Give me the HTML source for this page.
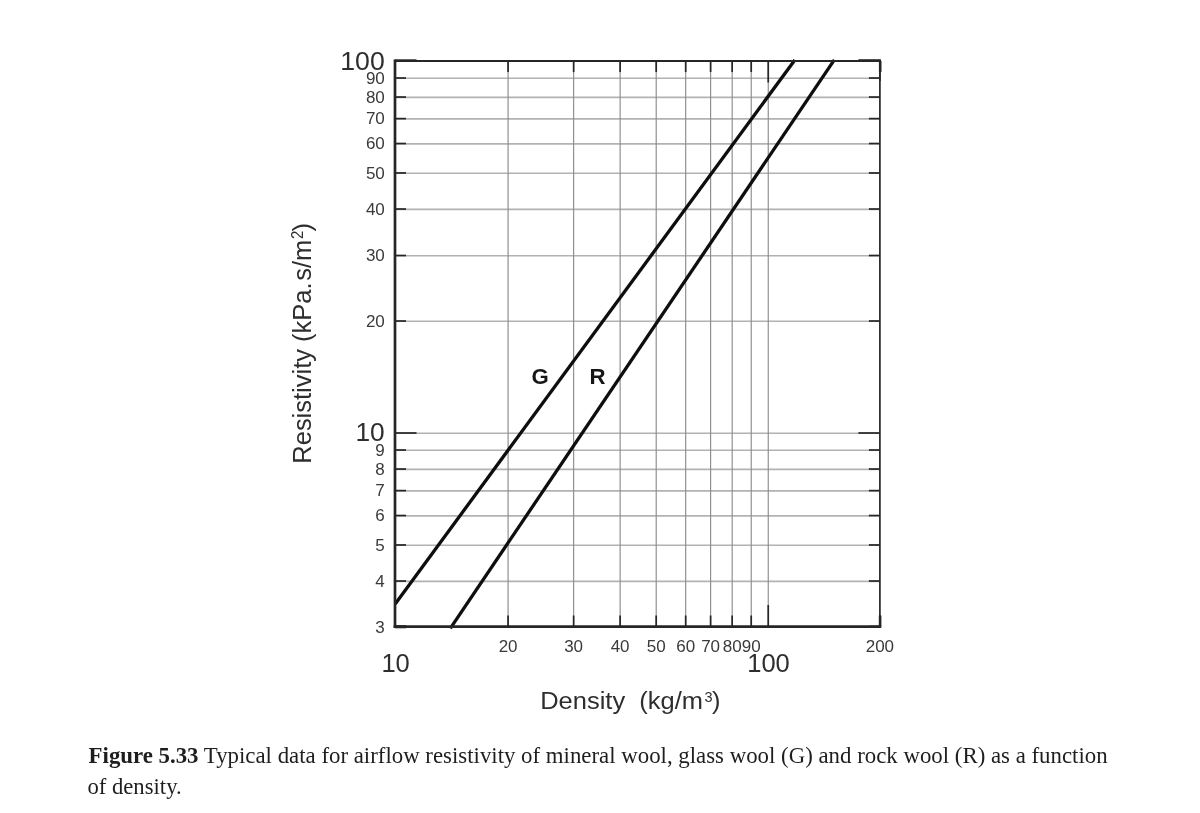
<!DOCTYPE html>
<html lang="en"><head><meta charset="utf-8"><title>Figure 5.33</title>
<style>html,body{margin:0;padding:0;background:#fff}body{width:1200px;height:813px;overflow:hidden}svg{display:block;filter:blur(0.45px)}.s{font-family:'Liberation Sans', Arial, Helvetica, sans-serif;fill:#3a3a3a}.b{font-family:'Liberation Sans', Arial, Helvetica, sans-serif;fill:#2e2e2e}.c{font-family:'Liberation Serif', 'Times New Roman', Times, serif;fill:#1e1e1e}</style>
</head><body>
<svg width="1200" height="813" viewBox="0 0 1200 813">
<rect width="1200" height="813" fill="#fff"/>
<g stroke="#b2b2b2" stroke-width="1.6">
<line x1="395.0" y1="581.33" x2="879.9" y2="581.33"/>
<line x1="395.0" y1="545.28" x2="879.9" y2="545.28"/>
<line x1="395.0" y1="515.83" x2="879.9" y2="515.83"/>
<line x1="395.0" y1="490.92" x2="879.9" y2="490.92"/>
<line x1="395.0" y1="469.35" x2="879.9" y2="469.35"/>
<line x1="395.0" y1="450.32" x2="879.9" y2="450.32"/>
<line x1="395.0" y1="433.30" x2="879.9" y2="433.30"/>
<line x1="395.0" y1="321.32" x2="879.9" y2="321.32"/>
<line x1="395.0" y1="255.81" x2="879.9" y2="255.81"/>
<line x1="395.0" y1="209.33" x2="879.9" y2="209.33"/>
<line x1="395.0" y1="173.28" x2="879.9" y2="173.28"/>
<line x1="395.0" y1="143.83" x2="879.9" y2="143.83"/>
<line x1="395.0" y1="118.92" x2="879.9" y2="118.92"/>
<line x1="395.0" y1="97.35" x2="879.9" y2="97.35"/>
<line x1="395.0" y1="78.32" x2="879.9" y2="78.32"/>
</g>
<g stroke="#8c8c8c" stroke-width="1.15">
<line x1="508.09" y1="61.0" x2="508.09" y2="626.5"/>
<line x1="573.63" y1="61.0" x2="573.63" y2="626.5"/>
<line x1="620.14" y1="61.0" x2="620.14" y2="626.5"/>
<line x1="656.21" y1="61.0" x2="656.21" y2="626.5"/>
<line x1="685.68" y1="61.0" x2="685.68" y2="626.5"/>
<line x1="710.60" y1="61.0" x2="710.60" y2="626.5"/>
<line x1="732.18" y1="61.0" x2="732.18" y2="626.5"/>
<line x1="751.22" y1="61.0" x2="751.22" y2="626.5"/>
<line x1="768.25" y1="61.0" x2="768.25" y2="626.5"/>
</g>
<g stroke="#0e0e0e" stroke-width="3.3" fill="none" stroke-linecap="butt">
<line x1="395.19" y1="603.90" x2="794.87" y2="59.90"/>
<line x1="450.32" y1="628.30" x2="834.31" y2="59.90"/>
</g>
<g stroke="#262626" stroke-width="1.7">
<line x1="395.0" y1="626.55" x2="406.0" y2="626.55"/>
<line x1="879.9" y1="626.55" x2="868.9" y2="626.55"/>
<line x1="395.0" y1="581.03" x2="406.0" y2="581.03"/>
<line x1="879.9" y1="581.03" x2="868.9" y2="581.03"/>
<line x1="395.0" y1="544.98" x2="406.0" y2="544.98"/>
<line x1="879.9" y1="544.98" x2="868.9" y2="544.98"/>
<line x1="395.0" y1="515.53" x2="406.0" y2="515.53"/>
<line x1="879.9" y1="515.53" x2="868.9" y2="515.53"/>
<line x1="395.0" y1="490.62" x2="406.0" y2="490.62"/>
<line x1="879.9" y1="490.62" x2="868.9" y2="490.62"/>
<line x1="395.0" y1="469.05" x2="406.0" y2="469.05"/>
<line x1="879.9" y1="469.05" x2="868.9" y2="469.05"/>
<line x1="395.0" y1="450.02" x2="406.0" y2="450.02"/>
<line x1="879.9" y1="450.02" x2="868.9" y2="450.02"/>
<line x1="395.0" y1="433.00" x2="416.5" y2="433.00"/>
<line x1="879.9" y1="433.00" x2="858.4" y2="433.00"/>
<line x1="395.0" y1="321.02" x2="406.0" y2="321.02"/>
<line x1="879.9" y1="321.02" x2="868.9" y2="321.02"/>
<line x1="395.0" y1="255.51" x2="406.0" y2="255.51"/>
<line x1="879.9" y1="255.51" x2="868.9" y2="255.51"/>
<line x1="395.0" y1="209.03" x2="406.0" y2="209.03"/>
<line x1="879.9" y1="209.03" x2="868.9" y2="209.03"/>
<line x1="395.0" y1="172.98" x2="406.0" y2="172.98"/>
<line x1="879.9" y1="172.98" x2="868.9" y2="172.98"/>
<line x1="395.0" y1="143.53" x2="406.0" y2="143.53"/>
<line x1="879.9" y1="143.53" x2="868.9" y2="143.53"/>
<line x1="395.0" y1="118.62" x2="406.0" y2="118.62"/>
<line x1="879.9" y1="118.62" x2="868.9" y2="118.62"/>
<line x1="395.0" y1="97.05" x2="406.0" y2="97.05"/>
<line x1="879.9" y1="97.05" x2="868.9" y2="97.05"/>
<line x1="395.0" y1="78.02" x2="406.0" y2="78.02"/>
<line x1="879.9" y1="78.02" x2="868.9" y2="78.02"/>
<line x1="395.0" y1="60.95" x2="416.5" y2="60.95"/>
<line x1="879.9" y1="60.95" x2="858.4" y2="60.95"/>
<line x1="395.00" y1="61.0" x2="395.00" y2="72.0"/>
<line x1="395.00" y1="626.5" x2="395.00" y2="615.5"/>
<line x1="508.09" y1="61.0" x2="508.09" y2="72.0"/>
<line x1="508.09" y1="626.5" x2="508.09" y2="615.5"/>
<line x1="573.63" y1="61.0" x2="573.63" y2="72.0"/>
<line x1="573.63" y1="626.5" x2="573.63" y2="615.5"/>
<line x1="620.14" y1="61.0" x2="620.14" y2="72.0"/>
<line x1="620.14" y1="626.5" x2="620.14" y2="615.5"/>
<line x1="656.21" y1="61.0" x2="656.21" y2="72.0"/>
<line x1="656.21" y1="626.5" x2="656.21" y2="615.5"/>
<line x1="685.68" y1="61.0" x2="685.68" y2="72.0"/>
<line x1="685.68" y1="626.5" x2="685.68" y2="615.5"/>
<line x1="710.60" y1="61.0" x2="710.60" y2="72.0"/>
<line x1="710.60" y1="626.5" x2="710.60" y2="615.5"/>
<line x1="732.18" y1="61.0" x2="732.18" y2="72.0"/>
<line x1="732.18" y1="626.5" x2="732.18" y2="615.5"/>
<line x1="751.22" y1="61.0" x2="751.22" y2="72.0"/>
<line x1="751.22" y1="626.5" x2="751.22" y2="615.5"/>
<line x1="768.25" y1="61.0" x2="768.25" y2="82.5"/>
<line x1="768.25" y1="626.5" x2="768.25" y2="605.0"/>
<line x1="879.90" y1="61.0" x2="879.90" y2="81.0"/>
<line x1="879.90" y1="626.5" x2="879.90" y2="615.5"/>
</g>
<g stroke="#262626" stroke-width="2.6">
<line x1="395.0" y1="60.60" x2="416.5" y2="60.60"/>
<line x1="858.4" y1="60.50" x2="880.8" y2="60.50"/>
<line x1="880.20" y1="60.95" x2="880.20" y2="71.95"/>
<line x1="880.10" y1="626.55" x2="880.10" y2="615.55"/>
<line x1="395.0" y1="626.75" x2="406.0" y2="626.75" stroke-width="3.1"/>
</g>
<g stroke="#262626" fill="none" stroke-linecap="square">
<line x1="395.00" y1="60.95" x2="395.00" y2="626.55" stroke-width="2.7"/>
<line x1="395.00" y1="626.55" x2="879.90" y2="626.55" stroke-width="2.7"/>
<line x1="395.00" y1="60.95" x2="879.90" y2="60.95" stroke-width="2.1"/>
<line x1="879.90" y1="60.95" x2="879.90" y2="626.55" stroke-width="1.7"/>
</g>
<text class="s" x="384.8" y="632.5" font-size="17.0" text-anchor="end">3</text>
<text class="s" x="384.8" y="586.5" font-size="17.0" text-anchor="end">4</text>
<text class="s" x="384.8" y="550.5" font-size="17.0" text-anchor="end">5</text>
<text class="s" x="384.8" y="521.0" font-size="17.0" text-anchor="end">6</text>
<text class="s" x="384.8" y="496.1" font-size="17.0" text-anchor="end">7</text>
<text class="s" x="384.8" y="474.6" font-size="17.0" text-anchor="end">8</text>
<text class="s" x="384.8" y="455.5" font-size="17.0" text-anchor="end">9</text>
<text class="s" x="384.8" y="326.5" font-size="17.0" text-anchor="end">20</text>
<text class="s" x="384.8" y="261.0" font-size="17.0" text-anchor="end">30</text>
<text class="s" x="384.8" y="214.5" font-size="17.0" text-anchor="end">40</text>
<text class="s" x="384.8" y="178.5" font-size="17.0" text-anchor="end">50</text>
<text class="s" x="384.8" y="149.0" font-size="17.0" text-anchor="end">60</text>
<text class="s" x="384.8" y="124.1" font-size="17.0" text-anchor="end">70</text>
<text class="s" x="384.8" y="102.6" font-size="17.0" text-anchor="end">80</text>
<text class="s" x="384.8" y="83.5" font-size="17.0" text-anchor="end">90</text>
<text class="b" x="384.7" y="69.7" font-size="25.5" text-anchor="end" textLength="44.4" lengthAdjust="spacingAndGlyphs">100</text>
<text class="b" x="384.7" y="441.3" font-size="25.5" text-anchor="end" textLength="29.3" lengthAdjust="spacingAndGlyphs">10</text>
<text class="s" x="508.1" y="652.2" font-size="17.0" text-anchor="middle">20</text>
<text class="s" x="573.6" y="652.2" font-size="17.0" text-anchor="middle">30</text>
<text class="s" x="620.1" y="652.2" font-size="17.0" text-anchor="middle">40</text>
<text class="s" x="656.2" y="652.2" font-size="17.0" text-anchor="middle">50</text>
<text class="s" x="685.7" y="652.2" font-size="17.0" text-anchor="middle">60</text>
<text class="s" x="710.6" y="652.2" font-size="17.0" text-anchor="middle">70</text>
<text class="s" x="732.2" y="652.2" font-size="17.0" text-anchor="middle">80</text>
<text class="s" x="751.2" y="652.2" font-size="17.0" text-anchor="middle">90</text>
<text class="s" x="879.9" y="652.2" font-size="17.0" text-anchor="middle">200</text>
<text class="b" x="395.6" y="672.3" font-size="25.5" text-anchor="middle">10</text>
<text class="b" x="768.5" y="672.3" font-size="25.5" text-anchor="middle">100</text>
<text class="b" x="531.4" y="384.2" font-size="22.2" font-weight="bold" style="fill:#161616">G</text>
<text class="b" x="589.6" y="384.0" font-size="22.2" font-weight="bold" style="fill:#161616">R</text>
<text class="b" transform="translate(540.2 708.7) scale(1.036 1)" x="0" y="0" font-size="24.6" xml:space="preserve">Density  (kg/m<tspan font-size="14" dy="-6.4" dx="1.6">3</tspan><tspan dy="6.4" dx="-0.6">)</tspan></text>
<text class="b" transform="translate(310.5 463.7) rotate(-90) scale(1 1.04)" x="0" y="0" font-size="25.5">Resistivity (kPa.<tspan dx="1.6">s</tspan>/m<tspan font-size="15" dy="-7.1" dx="0.8">2</tspan><tspan dy="7.1" dx="-0.9">)</tspan></text>
<text class="c" x="88.6" y="762.5" font-size="22.5" textLength="1019" lengthAdjust="spacingAndGlyphs"><tspan font-weight="bold">Figure 5.33</tspan> Typical data for airflow resistivity of mineral wool, glass wool (G) and rock wool (R) as a function</text>
<text class="c" x="87.4" y="793.6" font-size="22.5" textLength="94.3" lengthAdjust="spacingAndGlyphs">of density.</text>
</svg>
</body></html>
